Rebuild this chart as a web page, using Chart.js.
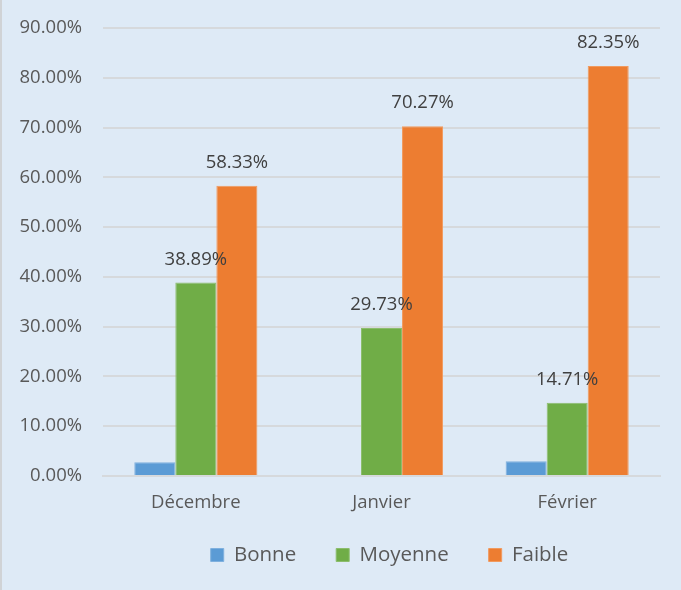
<!DOCTYPE html>
<html>
<head>
<meta charset="utf-8">
<script src="https://cdn.jsdelivr.net/npm/chart.js@4/dist/chart.umd.min.js"></script>
<style>
html,body{margin:0;padding:0;background:#deeaf6;}
#wrap{position:relative;width:679px;height:590px;border-left:2px solid #d0d3d6;background:#deeaf6;}
</style>
</head>
<body>
<div id="wrap"><canvas id="c" width="679" height="590"></canvas></div>
<script>
const categories = ['Décembre', 'Janvier', 'Février'];
const bonne = [2.78, 0, 2.94];
const moyenne = [38.89, 29.73, 14.71];
const faible = [58.33, 70.27, 82.35];
const yTicks = [0, 10, 20, 30, 40, 50, 60, 70, 80, 90];

const FONT = "'Open Sans', 'Noto Sans', sans-serif";
const TXT = '#595959';

const labelPlugin = {
  id: 'valLabels',
  afterDatasetsDraw(chart) {
    const ctx = chart.ctx;
    ctx.save();
    ctx.font = '18.5px ' + FONT;
    ctx.fillStyle = '#404040';
    ctx.textAlign = 'center';
    ctx.textBaseline = 'middle';
    chart.data.datasets.forEach((ds, i) => {
      if (!ds.showLabels) return;
      const meta = chart.getDatasetMeta(i);
      meta.data.forEach((bar, j) => {
        const v = ds.data[j];
        ctx.fillText(v.toFixed(2) + '%', bar.x, bar.y - 23);
      });
    });
    ctx.restore();
  }
};

const legendShift = {
  id: 'legendShift',
  afterLayout(chart) {
    const l = chart.legend;
    if (!l) return;
    l.top -= 10.75; l.bottom -= 10.75;
    l.left += 8; l.right += 8;
  }
};

new Chart(document.getElementById('c'), {
  type: 'bar',
  data: {
    labels: categories,
    datasets: [
      { label: 'Bonne', data: bonne, backgroundColor: '#5b9bd5', borderColor: '#7fb0de', borderWidth: 1, showLabels: false },
      { label: 'Moyenne', data: moyenne, backgroundColor: '#70ad47', borderColor: '#8cbd6c', borderWidth: 1, showLabels: true },
      { label: 'Faible', data: faible, backgroundColor: '#ed7d31', borderColor: '#f19a5e', borderWidth: 1, showLabels: true }
    ]
  },
  options: {
    responsive: false,
    animation: false,
    layout: { padding: { top: 28, right: 21, left: 0, bottom: 4 } },
    datasets: { bar: { categoryPercentage: 0.663, barPercentage: 1.0 } },
    plugins: {
      legend: {
        position: 'bottom',
        fullSize: false,
        labels: {
          boxWidth: 13, boxHeight: 13, padding: 40,
          color: TXT, font: { family: FONT, size: 20.5 },
          useBorderRadius: false
        }
      },
      tooltip: { enabled: false }
    },
    scales: {
      x: {
        afterFit(s) { s.height = 39.5; },
        grid: { display: false, drawTicks: false },
        border: { display: true, color: '#d6d9dc', width: 2 },
        ticks: { color: TXT, font: { family: FONT, size: 18.5 }, padding: 16 }
      },
      y: {
        min: 0, max: 90,
        afterFit(s) { s.width = 101; s.paddingTop = 0; },
        afterBuildTicks(axis) { axis.ticks = yTicks.map(v => ({ value: v })); },
        grid: { color: '#d6d9dc', lineWidth: 2, drawTicks: false },
        border: { display: false },
        ticks: { color: TXT, font: { family: FONT, size: 18.5 }, padding: 21,
          callback: v => v.toFixed(2) + '%' }
      }
    }
  },
  plugins: [labelPlugin, legendShift]
});
</script>
</body>
</html>
